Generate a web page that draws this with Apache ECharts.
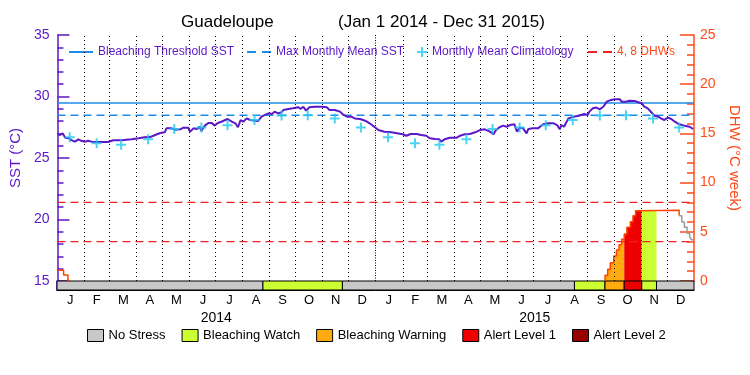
<!DOCTYPE html>
<html><head><meta charset="utf-8">
<script src="https://cdn.jsdelivr.net/npm/echarts@6/dist/echarts.min.js"></script>
<style>html,body{margin:0;padding:0;background:#fff}#c{width:750px;height:375px}</style>
</head><body><div id="c"></div>
<script>
// ---------------- DATA ----------------
const titleMain = 'Guadeloupe';
const titlePeriod = '(Jan 1 2014 - Dec 31 2015)';
const monthLetters = ['J','F','M','A','M','J','J','A','S','O','N','D'];
const years = ['2014','2015'];
const periodStart = '2014-01-01';
const periodEnd = '2016-01-01';
const sstTicks = { min: 15, max: 35, step: 5 };
const dhwTicks = { min: 0, max: 25, step: 5 };

const bleachingThreshold = 29.47;
const maxMonthlyMean = 28.47;
const dhwLevels = [4, 8];
// monthly mean climatology (Jan..Dec)
const climatology = [26.68, 26.19, 26.07, 26.53, 27.35, 27.48, 27.66, 28.08, 28.46, 28.47, 28.22, 27.48];

const sstDates = [
'2014-01-01','2014-01-04','2014-01-07','2014-01-10','2014-01-14','2014-01-17','2014-01-21','2014-01-25','2014-01-29',
'2014-02-02','2014-02-05','2014-02-09','2014-02-15','2014-02-21','2014-02-28',
'2014-03-06','2014-03-16','2014-03-21','2014-03-27',
'2014-04-04','2014-04-11','2014-04-17','2014-04-21','2014-04-23','2014-04-25','2014-04-29',
'2014-05-04','2014-05-06','2014-05-12','2014-05-16','2014-05-22','2014-05-25','2014-05-31',
'2014-06-02','2014-06-06','2014-06-10','2014-06-13','2014-06-15','2014-06-19','2014-06-23','2014-06-27','2014-06-30',
'2014-07-04','2014-07-08','2014-07-15','2014-07-20','2014-07-24','2014-07-27','2014-07-30',
'2014-08-02','2014-08-06','2014-08-10','2014-08-14','2014-08-19','2014-08-23','2014-08-27','2014-08-31',
'2014-09-04','2014-09-07','2014-09-11','2014-09-15','2014-09-17','2014-09-23','2014-09-28','2014-09-30',
'2014-10-04','2014-10-07','2014-10-10','2014-10-13','2014-10-17','2014-10-23','2014-10-31',
'2014-11-06','2014-11-09','2014-11-15','2014-11-21','2014-11-25','2014-11-29',
'2014-12-04','2014-12-08','2014-12-14','2014-12-20','2014-12-25','2014-12-31',
'2015-01-04','2015-01-11','2015-01-19','2015-01-27',
'2015-02-01','2015-02-05','2015-02-07','2015-02-10','2015-02-17','2015-02-22','2015-02-28',
'2015-03-04','2015-03-10','2015-03-15','2015-03-17','2015-03-21','2015-03-27',
'2015-04-04','2015-04-07','2015-04-13','2015-04-19','2015-04-25',
'2015-05-01','2015-05-06','2015-05-12','2015-05-16','2015-05-19','2015-05-23','2015-05-27','2015-05-31',
'2015-06-04','2015-06-09','2015-06-12','2015-06-15','2015-06-19','2015-06-23','2015-06-25','2015-06-30',
'2015-07-06','2015-07-12','2015-07-18','2015-07-24','2015-07-28','2015-07-31',
'2015-08-02','2015-08-05','2015-08-07','2015-08-10','2015-08-16','2015-08-22','2015-08-28',
'2015-09-01','2015-09-03','2015-09-07','2015-09-11','2015-09-15','2015-09-19','2015-09-23','2015-09-28',
'2015-10-02','2015-10-08','2015-10-10','2015-10-15','2015-10-19','2015-10-25','2015-10-29',
'2015-11-02','2015-11-05','2015-11-09','2015-11-13','2015-11-17','2015-11-21','2015-11-24','2015-11-28',
'2015-12-02','2015-12-06','2015-12-10','2015-12-15','2015-12-21','2015-12-27','2015-12-31'
];
const sstValues = [
26.95,26.87,27.00,26.65,26.60,26.46,26.33,26.52,26.38,
26.33,26.40,26.33,26.30,26.30,26.30,
26.44,26.44,26.49,26.52,
26.60,26.68,26.70,26.81,26.65,26.93,27.03,
27.09,27.41,27.41,27.30,27.33,27.46,27.46,
27.14,27.41,27.36,27.54,27.20,27.63,27.85,27.85,27.63,
27.85,27.95,28.17,27.95,27.82,27.50,28.09,
27.95,28.22,28.09,28.04,28.00,28.36,28.50,28.63,
28.58,28.77,28.63,28.72,28.90,28.98,29.04,29.17,
29.13,29.00,29.17,28.85,29.12,29.17,29.17,
29.12,28.90,28.90,28.77,28.50,28.36,
28.36,28.22,28.17,28.03,27.82,27.50,
27.28,27.14,27.09,27.00,
26.93,26.81,26.65,26.95,26.95,26.87,26.81,
26.60,26.54,26.52,26.33,26.52,26.65,
26.65,26.79,26.93,26.95,27.09,
27.28,27.33,27.14,26.93,27.28,27.50,27.63,27.54,
27.68,27.74,27.14,27.46,27.41,27.00,27.36,27.41,
27.41,27.74,27.82,27.82,27.68,27.33,
27.68,27.54,27.82,28.22,28.36,28.44,28.58,
28.50,28.77,29.04,29.10,28.96,29.17,29.58,29.72,
29.77,29.77,29.58,29.58,29.66,29.64,29.53,
29.45,29.17,29.04,28.72,28.44,28.36,28.22,28.09,
28.28,28.17,27.95,27.74,27.63,27.54,27.36
];

// Degree Heating Weeks (step values; null = gap)
const dhwDates = [
'2014-01-01','2014-01-08','2014-01-13','2014-01-14',
'2015-09-21','2015-09-21','2015-09-24','2015-09-27','2015-10-01','2015-10-04','2015-10-07','2015-10-10',
'2015-10-13','2015-10-16','2015-10-20','2015-10-23','2015-10-26','2015-10-30',
'2015-12-15','2015-12-18','2015-12-21','2015-12-24','2015-12-27','2015-12-29','2016-01-01'
];
const dhwValues = [
1.1,0.6,0,null,
0,0.58,1.19,1.86,2.54,3.15,3.69,4.24,
4.78,5.46,6.03,6.64,7.15,7.2,
6.64,6.0,5.46,4.85,4.5,4.2,4.2
];
const dhwFadeFrom = '2015-12-15';

// Bleaching alert status periods
const statusStart = ['2014-01-01','2014-08-25','2014-11-24','2015-08-17','2015-09-21','2015-10-13','2015-11-02','2015-11-19'];
const statusEnd   = ['2014-08-25','2014-11-24','2015-08-17','2015-09-21','2015-10-13','2015-11-02','2015-11-19','2016-01-01'];
const statusLevel = [0,1,0,1,2,3,1,0];
const statusNames = ['No Stress','Bleaching Watch','Bleaching Warning','Alert Level 1','Alert Level 2'];

// ---------------- STYLE ----------------
const statusColors = ['#c8c8c8','#ccff33','#ffaa11','#ee0000','#990000'];
const PURPLE = '#5b17c8', BLUE = '#1e8ce6', CYAN = '#1ec8f0', RED = '#ee2222', ORANGE = '#ff4a1a';
const FONT = 'Liberation Sans';
const ICON_SOLID = 'path://M0,0H24V2H0Z';
const ICON_DASH = 'path://M0,0H9V2H0ZM15,0H24V2H15Z';
const ICON_PLUS = 'path://M4,0H6V4H10V6H6V10H4V6H0V4H4Z';

const T = s => { const p = s.split('-').map(Number); return new Date(p[0], p[1]-1, p[2]).getTime(); };
const T0 = T(periodStart), TE = T(periodEnd);

const sstData = sstDates.map((d,i) => [T(d), sstValues[i]]);
const dhwData = dhwDates.map((d,i) => [T(d), dhwValues[i]]);
const fadeTs = T(dhwFadeFrom);
const dhwMain = dhwData.filter(p => p[0] <= fadeTs);
const dhwFade = dhwData.filter(p => p[0] >= fadeTs);

const climData = [];
years.forEach(y => climatology.forEach((v,m) => climData.push([new Date(+y, m, 15).getTime(), v])));

const monthStarts = [];
const monthIds = [];
years.forEach(y => { for (let m = 0; m < 12; m++) { monthIds.push(y + '-' + m); if (!(y === years[0] && m === 0)) monthStarts.push(new Date(+y, m, 1).getTime()); } });

function valueBefore(ts, inclusive) {
  let v = 0;
  dhwData.forEach(([d, val]) => { if (val == null) return; if (inclusive ? d <= ts : d < ts) v = val; });
  return v;
}
const fillSeries = [];
statusStart.forEach((s, i) => {
  const L = statusLevel[i]; if (L === 0) return;
  const a = T(s), b = T(statusEnd[i]);
  const pts = [[a, valueBefore(a, true)]];
  dhwData.forEach(([d, val]) => { if (val != null && d > a && d < b) pts.push([d, val]); });
  pts.push([b, valueBefore(b, false)]);
  if (pts.every(p => p[1] === 0)) return;
  fillSeries.push({ type: 'line', name: 'fill' + i, xAxisIndex: 0, yAxisIndex: 1, step: 'end', symbol: 'none', z: 2,
    silent: true, data: pts, lineStyle: { width: 0 }, areaStyle: { color: statusColors[L], opacity: 1 } });
});

const levelData = [];
dhwLevels.forEach((lv, i) => { if (i) levelData.push([TE, null]); levelData.push([T0, lv], [TE, lv]); });

const statusSeries = statusNames.map((name, L) => ({
  type: 'custom', name, xAxisIndex: 1, yAxisIndex: 2, z: 3,
  itemStyle: { color: statusColors[L] },
  dimensions: ['start', 'end'], encode: { x: [0, 1] },
  data: statusStart.map((s, i) => statusLevel[i] === L ? [T(s), T(statusEnd[i])] : null).filter(Boolean),
  renderItem: (params, api) => {
    const p0 = api.coord([api.value(0), 0]);
    const p1 = api.coord([api.value(1), 1]);
    return { type: 'rect', shape: { x: p0[0], y: p1[1], width: p1[0] - p0[0], height: p0[1] - p1[1] },
      style: { fill: api.visual('color'), stroke: '#000', lineWidth: 1 } };
  }
}));

const legendText = { fontFamily: FONT, fontSize: 12, color: PURPLE };
const option = {
  animation: false,
  backgroundColor: '#fff',
  title: [
    { text: titleMain, left: 181, top: 14, padding: 0, textStyle: { fontFamily: FONT, fontSize: 17, fontWeight: 'normal', color: '#000' } },
    { text: titlePeriod, left: 338, top: 14, padding: 0, textStyle: { fontFamily: FONT, fontSize: 17, fontWeight: 'normal', color: '#000' } }
  ],
  legend: [
    { left: 69, top: 46, padding: 0, itemWidth: 24, itemHeight: 2, itemGap: 13, selectedMode: false, textStyle: legendText,
      data: [{ name: 'Bleaching Threshold SST', icon: ICON_SOLID }, { name: 'Max Monthly Mean SST', icon: ICON_DASH }] },
    { left: 417, top: 46, padding: 0, itemWidth: 10, itemHeight: 10, selectedMode: false, textStyle: legendText,
      data: [{ name: 'Monthly Mean Climatology', icon: ICON_PLUS }] },
    { left: 588, top: 46, padding: 0, itemWidth: 24, itemHeight: 2, selectedMode: false, textStyle: { fontFamily: FONT, fontSize: 12, color: ORANGE },
      data: [{ name: '4, 8 DHWs', icon: ICON_DASH }] },
    { left: 87, top: 329, padding: 0, itemWidth: 16, itemHeight: 12, itemGap: 16, selectedMode: false, icon: 'rect',
      itemStyle: { borderColor: '#000', borderWidth: 1 },
      textStyle: { fontFamily: FONT, fontSize: 13, color: '#000' }, data: statusNames }
  ],
  grid: [
    { left: 57, right: 56, top: 35, height: 246 },
    { left: 57, right: 56, top: 281, height: 9 }
  ],
  xAxis: [
    { type: 'time', gridIndex: 0, min: T0, max: TE, position: 'top',
      axisLine: { show: true, lineStyle: { color: '#000', width: 1 } }, axisTick: { show: false }, axisLabel: { show: false }, splitLine: { show: false } },
    { type: 'time', gridIndex: 1, min: T0, max: TE, position: 'bottom',
      axisLine: { show: true, lineStyle: { color: '#000', width: 1 } }, axisTick: { show: false }, axisLabel: { show: false }, splitLine: { show: false } },
    { type: 'category', gridIndex: 1, position: 'bottom', data: monthIds, boundaryGap: true,
      axisLine: { show: false }, axisTick: { show: false }, splitLine: { show: false },
      axisLabel: { interval: 0, margin: 4, fontFamily: FONT, fontSize: 13, color: '#000', formatter: v => monthLetters[+v.split('-')[1]] } },
    { type: 'category', gridIndex: 1, position: 'bottom', offset: 18, data: years, boundaryGap: true,
      axisLine: { show: false }, axisTick: { show: false }, splitLine: { show: false },
      axisLabel: { interval: 0, margin: 3, fontFamily: FONT, fontSize: 14, color: '#000' } }
  ],
  yAxis: [
    { type: 'value', gridIndex: 0, position: 'left', min: sstTicks.min, max: sstTicks.max, interval: sstTicks.step,
      name: 'SST (°C)', nameLocation: 'middle', nameRotate: 90, nameGap: 28,
      nameTextStyle: { fontFamily: FONT, fontSize: 15, color: PURPLE },
      axisLine: { show: true, lineStyle: { color: PURPLE, width: 1.5 } },
      axisTick: { show: true, inside: true, length: 12, lineStyle: { color: PURPLE, width: 1.5 } },
      minorTick: { show: true, splitNumber: 5, length: 6, lineStyle: { color: PURPLE, width: 1.5 } },
      axisLabel: { margin: 8, fontFamily: FONT, fontSize: 14, color: PURPLE },
      splitLine: { show: false } },
    { type: 'value', gridIndex: 0, position: 'right', min: dhwTicks.min, max: dhwTicks.max, interval: dhwTicks.step,
      name: 'DHW (°C week)', nameLocation: 'middle', nameRotate: -90, nameGap: 32,
      nameTextStyle: { fontFamily: FONT, fontSize: 15, color: ORANGE },
      axisLine: { show: true, lineStyle: { color: ORANGE, width: 1.5 } },
      axisTick: { show: true, inside: true, length: 14, lineStyle: { color: ORANGE, width: 1.5 } },
      minorTick: { show: true, splitNumber: 5, length: 7, lineStyle: { color: ORANGE, width: 1.5 } },
      axisLabel: { margin: 6, fontFamily: FONT, fontSize: 14, color: ORANGE },
      splitLine: { show: false } },
    { type: 'value', gridIndex: 1, position: 'left', min: 0, max: 1,
      axisLine: { show: true, lineStyle: { color: PURPLE, width: 1.5 } },
      axisTick: { show: false }, axisLabel: { show: false }, splitLine: { show: false } }
  ],
  series: [
    { type: 'line', name: 'Bleaching Threshold SST', xAxisIndex: 0, yAxisIndex: 0, z: 1, symbol: 'none',
      data: [[T0, bleachingThreshold], [TE, bleachingThreshold]], lineStyle: { color: BLUE, width: 1.5 }, itemStyle: { color: BLUE },
      markLine: { silent: true, symbol: ['none', 'none'], label: { show: false },
        lineStyle: { color: '#000', type: [1, 3], width: 1 },
        data: monthStarts.map(ts => new Date(ts).getMonth() === 0
          ? { xAxis: ts, lineStyle: { color: '#000', type: [1, 1.5], width: 1 } }
          : { xAxis: ts }) } },
    { type: 'line', name: 'Max Monthly Mean SST', xAxisIndex: 0, yAxisIndex: 0, z: 1, symbol: 'none',
      data: [[T0, maxMonthlyMean], [TE, maxMonthlyMean]], lineStyle: { color: BLUE, width: 1.5, type: [8, 5] }, itemStyle: { color: BLUE } },
    ...fillSeries,
    { type: 'line', name: '4, 8 DHWs', xAxisIndex: 0, yAxisIndex: 1, z: 3, symbol: 'none', data: levelData,
      lineStyle: { color: RED, width: 1.2, type: [8, 5] }, itemStyle: { color: RED } },
    { type: 'line', name: 'DHW', xAxisIndex: 0, yAxisIndex: 1, z: 4, step: 'end', symbol: 'none', data: dhwMain,
      lineStyle: { color: '#ff4400', width: 1.5 } },
    { type: 'line', name: 'DHW late', xAxisIndex: 0, yAxisIndex: 1, z: 4, step: 'end', symbol: 'none', data: dhwFade,
      lineStyle: { color: '#999999', width: 1.5 } },
    { type: 'line', name: 'SST', xAxisIndex: 0, yAxisIndex: 0, z: 5, symbol: 'none', data: sstData,
      lineStyle: { color: PURPLE, width: 2 } },
    { type: 'scatter', name: 'Monthly Mean Climatology', xAxisIndex: 0, yAxisIndex: 0, z: 6,
      symbol: ICON_PLUS, symbolSize: 10, symbolKeepAspect: true,
      data: climData, itemStyle: { color: CYAN } },
    ...statusSeries
  ]
};
const chart = echarts.init(document.getElementById('c'), null, { renderer: 'canvas' });
chart.setOption(option);
</script></body></html>
